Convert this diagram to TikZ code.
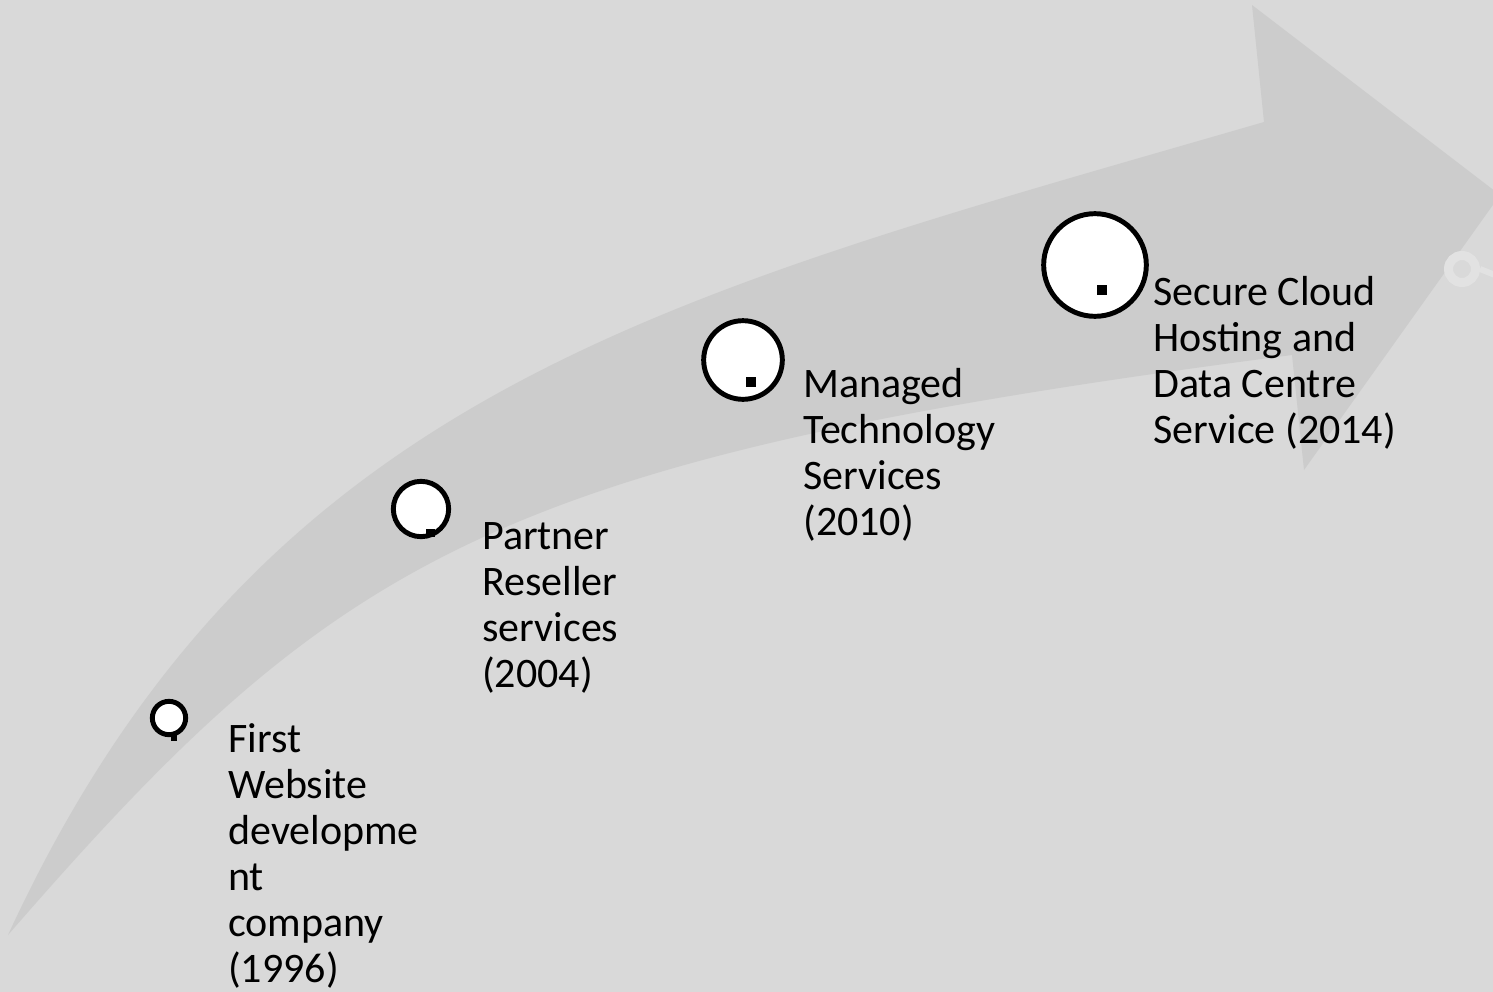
\documentclass[tikz,border=0pt]{standalone}
\usepackage{fontspec}
\setmainfont{Carlito}
\definecolor{bgcol}{HTML}{D9D9D9}
\definecolor{arrowcol}{HTML}{CCCCCC}
\definecolor{ringcol}{HTML}{E2E2E2}
\newcommand{\mylines}[1]{\vtop{\baselineskip=34.5pt\halign{##\hfil\cr#1\crcr}}}
\tikzset{
  milestone/.style={circle, draw=black, line width=3.7pt, fill=white, inner sep=0pt},
  marker/.style={rectangle, fill=black, inner sep=0pt, minimum size=#1},
  label text/.style={anchor=base west, inner sep=0pt, text=black, font=\fontsize{31.5pt}{34.5pt}\selectfont},
}
\begin{document}
\begin{tikzpicture}[x=0.75pt, y=-0.75pt]
\useasboundingbox (0,0) rectangle (1493,992);
\fill[bgcol] (0,0) rectangle (1493,992);
% curved arrow
\fill[arrowcol] (8,935) .. controls (260,389) and (664,296) .. (1264,122)
  -- (1252,5) -- (1500,195) -- (1304,470) -- (1292,355)
  .. controls (492,459) and (338,555) .. (8,935) -- cycle;
% faint ring at the right edge
\coordinate (ringc) at (1462,269);
\coordinate (ringend) at (1495,275);
\draw[ringcol, line width=6.75pt] (ringc) circle (13.5);
\draw[ringcol, line width=4.5pt] ([xshift=13.5pt]ringc) -- (ringend);
% milestones
\node[milestone, minimum size=25pt] (c1) at (169,718) {};
\node[marker=5pt] (s1) at (174,738) {};
\node[milestone, minimum size=41.5pt] (c2) at (421,509) {};
\node[marker=6.5pt] (s2) at (430.5,533) {};
\node[milestone, minimum size=59pt] (c3) at (743,360) {};
\node[marker=7pt] (s3) at (751,382) {};
\node[milestone, minimum size=77pt] (c4) at (1095,265) {};
\node[marker=7pt] (s4) at (1102,290) {};
% labels
\node[label text] (t1) at (228,752) {\mylines{First\cr Website\cr developme\cr nt\cr company\cr (1996)}};
\node[label text] (t2) at (482,549) {\mylines{Partner\cr Reseller\cr services\cr (2004)}};
\node[label text] (t3) at (803,397) {\mylines{Managed\cr Technology\cr Services\cr (2010)}};
\node[label text] (t4) at (1153,305) {\mylines{Secure Cloud\cr Hosting and\cr Data Centre\cr Service (2014)}};
\end{tikzpicture}
\end{document}
